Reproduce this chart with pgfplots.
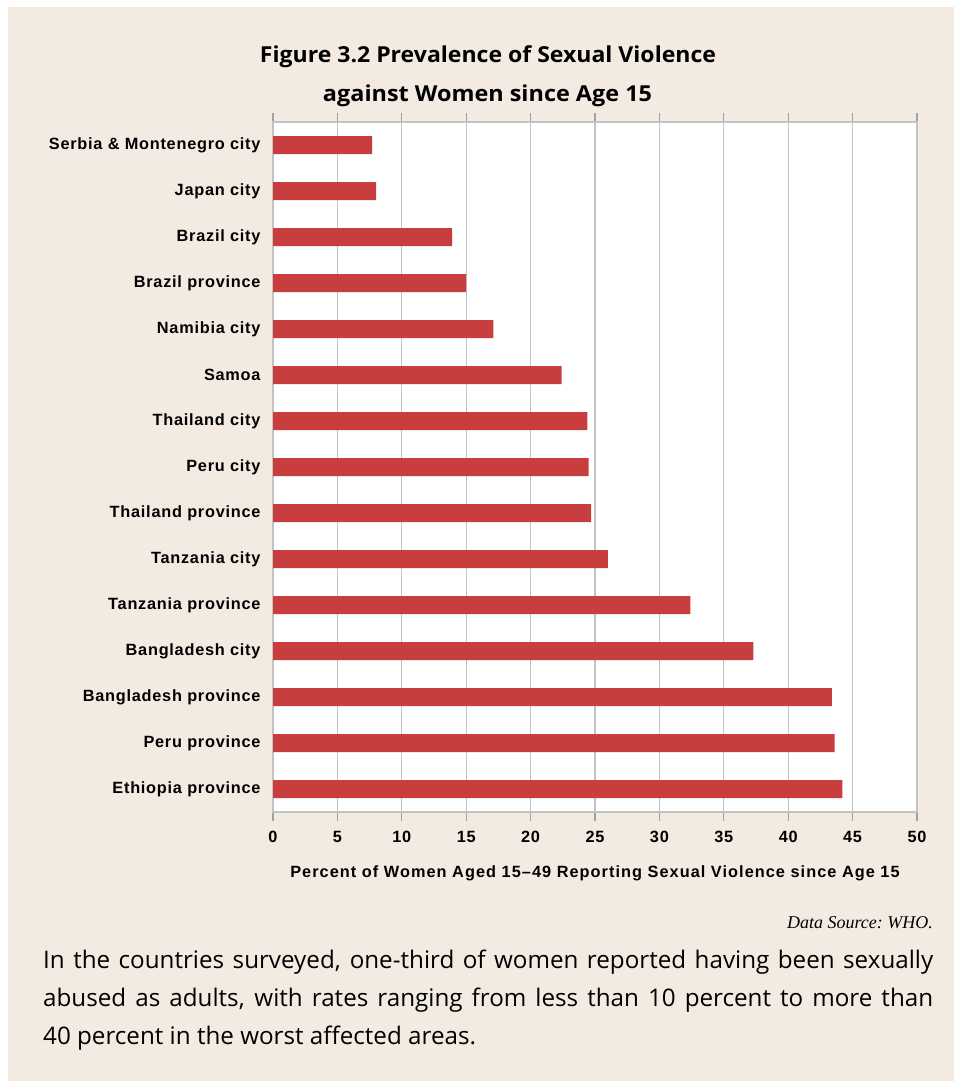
\documentclass[border=0pt]{standalone}
\usepackage{pgfplots}
\pgfplotsset{compat=1.18}
\usepackage{fontspec}
\setmainfont{Liberation Sans}
\newfontfamily\labelfont[LetterSpace=4.6]{Liberation Sans}
\newfontfamily\xlabfont[LetterSpace=6.4]{Liberation Sans}
\newfontfamily\titlefont{Open Sans}
\newfontfamily\bodyfont{Open Sans}
\newfontfamily\srcfont{Liberation Serif}
\definecolor{bgbeige}{RGB}{243,235,226}
\definecolor{barred}{RGB}{200,62,62}
\definecolor{gridgray}{RGB}{195,195,195}
\definecolor{axisgray}{RGB}{160,160,160}
\begin{document}
\begin{tikzpicture}[x=1pt,y=1pt]
\fill[white] (0,0) rectangle (954,-1081);
\fill[bgbeige] (8,-7) rectangle (954,-1081);
\node[anchor=base,inner sep=0pt] at (488,-62) {\resizebox{456pt}{\height}{\titlefont\bfseries\fontsize{22}{22}\selectfont Figure 3.2 Prevalence of Sexual Violence}};
\node[anchor=base,inner sep=0pt] at (487.5,-101) {\resizebox{329pt}{\height}{\titlefont\bfseries\fontsize{22}{22}\selectfont against Women since Age 15}};
\begin{axis}[
  at={(273pt,-812pt)}, anchor=south west,
  scale only axis, width=644pt, height=690pt,
  xbar, bar width=18pt,
  xmin=0, xmax=50, ymin=-0.5, ymax=14.5, y dir=reverse,
  xtick={0,5,...,50}, ytick={0,...,14},
  yticklabels={Serbia \& Montenegro city, Japan city, Brazil city, Brazil province, Namibia city, Samoa, Thailand city, Peru city, Thailand province, Tanzania city, Tanzania province, Bangladesh city, Bangladesh province, Peru province, Ethiopia province},
  xmajorgrids, major grid style={draw=gridgray, line width=1.2pt},
  axis line style={draw=gridgray, line width=1.2pt},
  x axis line style={draw=axisgray},
  tick style={draw=axisgray, line width=1.2pt},
  xtick align=outside, major tick length=9pt,
  ytick style={draw=none},
  tick label style={font=\labelfont\bfseries\fontsize{16.3}{16.3}\selectfont, text=black},
  /pgf/number format/assume math mode=true,
  yticklabel style={xshift=0pt},
  xticklabel style={yshift=-7pt},
  xlabel={Percent of Women Aged 15–49 Reporting Sexual Violence since Age 15},
  xlabel style={font=\xlabfont\bfseries\fontsize{16.3}{16.3}\selectfont, yshift=-16pt},
  axis background/.style={fill=white},
]
\addplot[fill=barred, draw=none] coordinates {
(7.7,0) (8.0,1) (13.9,2) (15.0,3) (17.1,4) (22.4,5) (24.4,6) (24.5,7) (24.7,8) (26.0,9) (32.4,10) (37.3,11) (43.4,12) (43.6,13) (44.2,14)
};
\end{axis}
\node[anchor=base east,inner sep=0pt] at (933,-928) {\srcfont\itshape\frenchspacing\fontsize{18}{18}\selectfont Data Source: WHO.};
\node[anchor=base west,inner sep=0pt] at (43,-968) {\bodyfont\fontsize{24.2}{24.2}\selectfont\makebox[890pt][s]{In the countries surveyed, one-third of women reported having been sexually}};
\node[anchor=base west,inner sep=0pt] at (43,-1006) {\bodyfont\fontsize{24.2}{24.2}\selectfont\makebox[890pt][s]{abused as adults, with rates ranging from less than 10 percent to more than}};
\node[anchor=base west,inner sep=0pt] at (43,-1044) {\bodyfont\fontsize{24.2}{24.2}\selectfont 40 percent in the worst affected areas.};
\end{tikzpicture}
\end{document}
